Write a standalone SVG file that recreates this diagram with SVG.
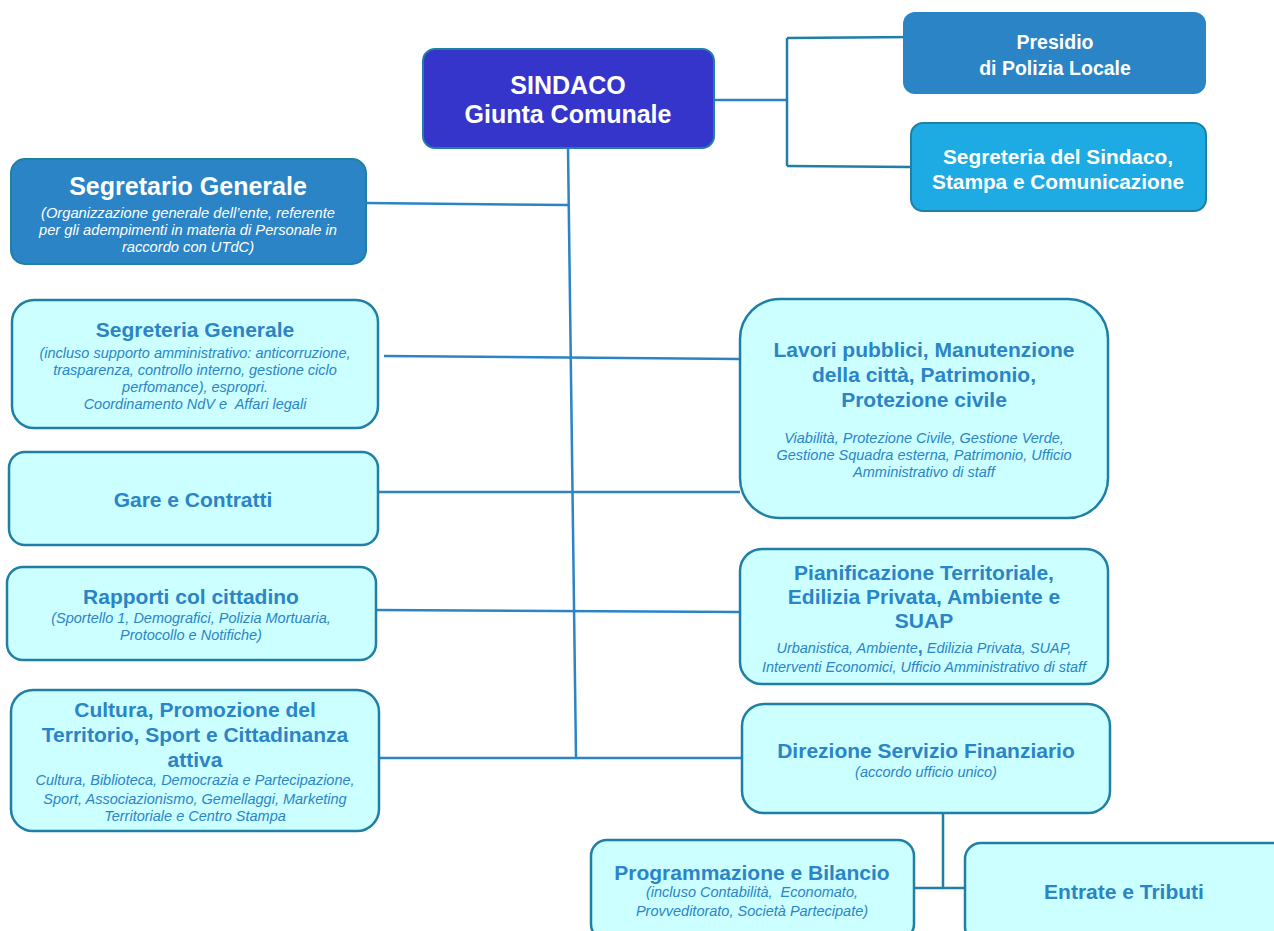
<svg xmlns="http://www.w3.org/2000/svg" width="1274" height="931" viewBox="0 0 1274 931">
<style>
.box{fill:#ccffff;stroke:#1f7fa5;stroke-width:2.5}
.t{font-family:"Liberation Sans",Arial,sans-serif;font-weight:bold;fill:#2a84c6;text-anchor:middle;font-size:21px}
.s{font-family:"Liberation Sans",Arial,sans-serif;font-style:italic;fill:#2a84c6;text-anchor:middle;font-size:14.5px}
.w{font-family:"Liberation Sans",Arial,sans-serif;font-weight:bold;fill:#ffffff;text-anchor:middle}
.wi{font-family:"Liberation Sans",Arial,sans-serif;font-style:italic;fill:#ffffff;text-anchor:middle;font-size:14.7px}
.c{stroke:#2a84c6;stroke-width:2.5;fill:none}
.d{stroke:#1f7fa5;stroke-width:2.5;fill:none}
</style>
<rect width="1274" height="931" fill="#ffffff"/>
<g id="connectors">
<line class="c" x1="714" y1="100" x2="787" y2="100"/>
<line class="d" x1="787" y1="38" x2="787" y2="166"/>
<line class="d" x1="787" y1="38" x2="916" y2="37"/>
<line class="d" x1="787" y1="166" x2="911" y2="167"/>
<line class="c" x1="568" y1="148" x2="576" y2="758"/>
<line class="c" x1="366" y1="203" x2="568" y2="205"/>
<line class="c" x1="384" y1="356" x2="740" y2="359"/>
<line class="c" x1="378" y1="492" x2="740" y2="492"/>
<line class="c" x1="376" y1="610" x2="740" y2="612"/>
<line class="c" x1="379" y1="758" x2="742" y2="758"/>
<line class="d" x1="943" y1="813" x2="943" y2="888"/>
<line class="d" x1="914" y1="888" x2="966" y2="888"/>
</g>
<g id="sindaco">
<rect x="423" y="49" width="291" height="99" rx="12" fill="#3535cc" stroke="#1f7fa5" stroke-width="2"/>
<text class="w" x="568" y="94" font-size="25">SINDACO</text>
<text class="w" x="568" y="123" font-size="25">Giunta Comunale</text>
</g>
<g id="presidio">
<rect x="903" y="12" width="303" height="82" rx="12" fill="#2a84c6"/>
<text class="w" x="1055" y="49" font-size="19.5">Presidio</text>
<text class="w" x="1055" y="75" font-size="19.5">di Polizia Locale</text>
</g>
<g id="segreteria-sindaco">
<rect x="911" y="123" width="295" height="88" rx="12" fill="#1eaae2" stroke="#1f7fa5" stroke-width="2"/>
<text class="w" x="1058" y="164" font-size="20.8">Segreteria del Sindaco,</text>
<text class="w" x="1058" y="189" font-size="20.8">Stampa e Comunicazione</text>
</g>
<g id="segretario-generale">
<rect x="11" y="159" width="355" height="105" rx="14" fill="#2a84c6" stroke="#1f7fa5" stroke-width="2"/>
<text class="w" x="188" y="195" font-size="25">Segretario Generale</text>
<text class="wi" x="188" y="218">(Organizzazione generale dell’ente, referente</text>
<text class="wi" x="188" y="235">per gli adempimenti in materia di Personale in</text>
<text class="wi" x="188" y="252">raccordo con UTdC)</text>
</g>
<g id="segreteria-generale">
<rect class="box" x="12" y="300" width="366" height="128" rx="22"/>
<text class="t" x="195" y="337">Segreteria Generale</text>
<text class="s" x="195" y="358">(incluso supporto amministrativo: anticorruzione,</text>
<text class="s" x="195" y="375">trasparenza, controllo interno, gestione ciclo</text>
<text class="s" x="195" y="392">perfomance), espropri.</text>
<text class="s" x="195" y="409" xml:space="preserve">Coordinamento NdV e  Affari legali</text>
</g>
<g id="gare">
<rect class="box" x="9" y="452" width="369" height="93" rx="16"/>
<text class="t" x="193" y="507">Gare e Contratti</text>
</g>
<g id="rapporti">
<rect class="box" x="7" y="567" width="369" height="93" rx="16"/>
<text class="t" x="191" y="604">Rapporti col cittadino</text>
<text class="s" x="191" y="623">(Sportello 1, Demografici, Polizia Mortuaria,</text>
<text class="s" x="191" y="640">Protocollo e Notifiche)</text>
</g>
<g id="cultura">
<rect class="box" x="11" y="690" width="368" height="141" rx="22"/>
<text class="t" x="195" y="717">Cultura, Promozione del</text>
<text class="t" x="195" y="742">Territorio, Sport e Cittadinanza</text>
<text class="t" x="195" y="767">attiva</text>
<text class="s" x="195" y="785">Cultura, Biblioteca, Democrazia e Partecipazione,</text>
<text class="s" x="195" y="804">Sport, Associazionismo, Gemellaggi, Marketing</text>
<text class="s" x="195" y="821">Territoriale e Centro Stampa</text>
</g>
<g id="lavori">
<rect class="box" x="740" y="299" width="368" height="219" rx="40"/>
<text class="t" x="924" y="357">Lavori pubblici, Manutenzione</text>
<text class="t" x="924" y="382">della città, Patrimonio,</text>
<text class="t" x="924" y="407">Protezione civile</text>
<text class="s" x="924" y="443">Viabilità, Protezione Civile, Gestione Verde,</text>
<text class="s" x="924" y="460">Gestione Squadra esterna, Patrimonio, Ufficio</text>
<text class="s" x="924" y="477">Amministrativo di staff</text>
</g>
<g id="pianificazione">
<rect class="box" x="740" y="549" width="368" height="135" rx="22"/>
<text class="t" x="924" y="580">Pianificazione Territoriale,</text>
<text class="t" x="924" y="604">Edilizia Privata, Ambiente e</text>
<text class="t" x="924" y="628">SUAP</text>
<text class="s" x="924" y="653">Urbanistica, Ambiente<tspan font-style="normal" font-weight="bold" font-size="18">,</tspan> Edilizia Privata, SUAP,</text>
<text class="s" x="924" y="672">Interventi Economici, Ufficio Amministrativo di staff</text>
</g>
<g id="direzione-finanziario">
<rect class="box" x="742" y="704" width="368" height="109" rx="22"/>
<text class="t" x="926" y="758">Direzione Servizio Finanziario</text>
<text class="s" x="926" y="777">(accordo ufficio unico)</text>
</g>
<g id="programmazione">
<rect class="box" x="591" y="840" width="323" height="100" rx="16"/>
<text class="t" x="752" y="880">Programmazione e Bilancio</text>
<text class="s" x="752" y="897" xml:space="preserve">(incluso Contabilità,  Economato,</text>
<text class="s" x="752" y="916">Provveditorato, Società Partecipate)</text>
</g>
<g id="entrate">
<rect class="box" x="965" y="843" width="330" height="100" rx="16"/>
<text class="t" x="1124" y="899">Entrate e Tributi</text>
</g>
</svg>
